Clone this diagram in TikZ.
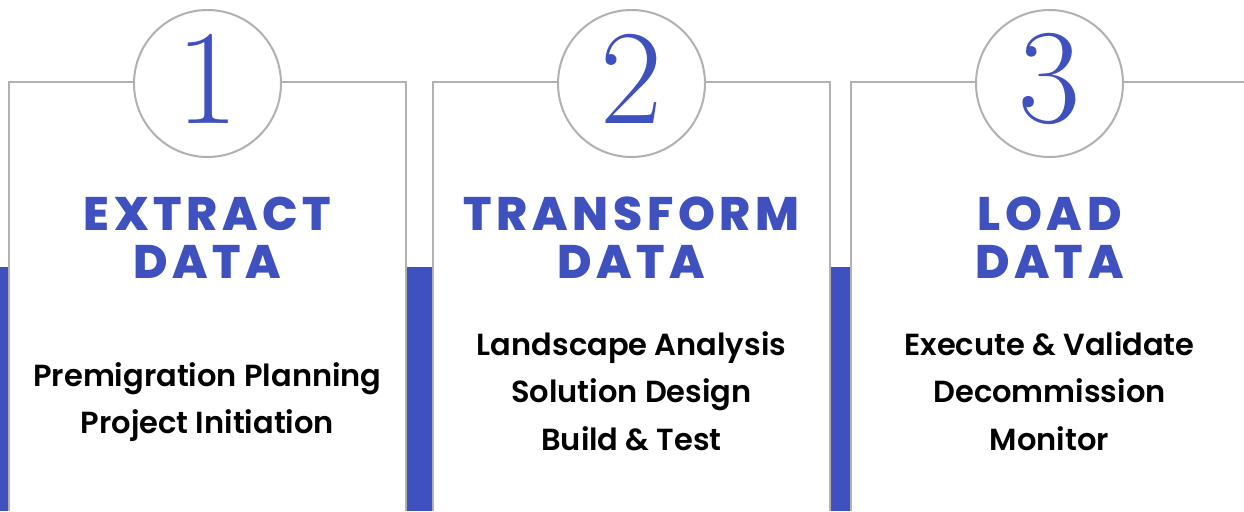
\documentclass[tikz,border=0pt]{standalone}
\usepackage{fontspec}
\setmainfont{Poppins}
\IfFontExistsTF{Poppins SemiBold}
  {\newfontfamily\bodyfont{Poppins SemiBold}}
  {\newfontfamily\bodyfont[FakeBold=1.5]{Poppins}}
\IfFontExistsTF{Poppins ExtraBold}
  {\newfontfamily\headfont[LetterSpace=10]{Poppins ExtraBold}}
  {\newfontfamily\headfont[LetterSpace=10,FakeBold=1.5]{Poppins Bold}}
\definecolor{etlblue}{RGB}{63,81,191}
\definecolor{etlgray}{RGB}{178,176,176}
\begin{document}
\begin{tikzpicture}[x=1pt, y=-1pt,
    panel/.style={draw=etlgray, line width=2pt},
    stepring/.style={circle, draw=etlgray, fill=white, line width=2pt,
      minimum size=147pt, inner sep=0pt},
    stepnum/.style={text=etlblue, inner sep=0pt,
      font=\fontspec{Latin Modern Roman}\fontsize{135}{135}\selectfont},
    heading/.style={text=etlblue, align=center, inner sep=0pt,
      font=\headfont\fontsize{47}{48}\selectfont},
    tasks/.style={align=center, inner sep=0pt,
      font=\bodyfont\fontsize{30.5}{47.5}\selectfont}]
    \useasboundingbox (0,0) rectangle (1244,511);
    % blue bars between the panels
    \fill[etlblue] (0,267) rectangle (8,511);
    \fill[etlblue] (407,267) rectangle (432,511);
    \fill[etlblue] (831,267) rectangle (850,511);
    % panel frames
    \draw[panel] (9,511) -- (9,82) -- (406,82) -- (406,511);
    \draw[panel] (433,511) -- (433,82) -- (830,82) -- (830,511);
    \draw[panel] (851,511) -- (851,82) -- (1244,82);
    % numbered rings
    \node[stepring] (ring1) at (207.5,83.5) {};
    \node[stepring] (ring2) at (631.5,83.5) {};
    \node[stepring] (ring3) at (1049.5,83.5) {};
    \node[stepnum] (num1) at (207.5,78.5) {1};
    \node[stepnum] (num2) at (631.5,78.5) {2};
    \node[stepnum] (num3) at (1049.5,78.5) {3};
    % headings
    \node[heading] (extract) at (207.5,237.5) {EXTRACT\\DATA};
    \node[heading] (transform) at (631.5,237.5) {TRANSFORM\\DATA};
    \node[heading] (load) at (1049.5,237.5) {LOAD\\DATA};
    % tasks
    \node[tasks] (extracttasks) at (207.5,402) {Premigration Planning\\Project Initiation};
    \node[tasks] (transformtasks) at (631.5,391) {Landscape Analysis\\Solution Design\\Build \& Test};
    \node[tasks] (loadtasks) at (1049.5,391) {Execute \& Validate\\Decommission\\Monitor};
\end{tikzpicture}
\end{document}
